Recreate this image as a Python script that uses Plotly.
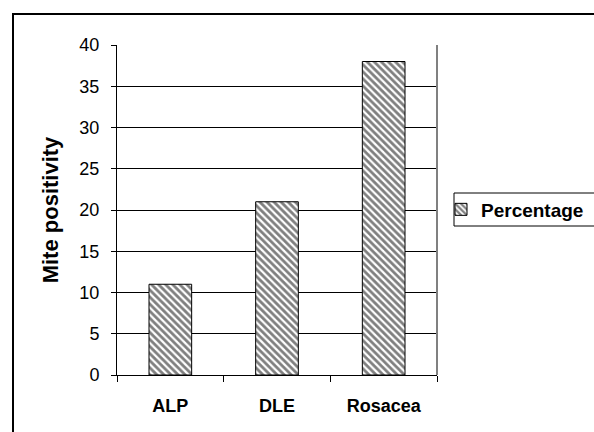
import plotly.graph_objects as go

categories = ["ALP", "DLE", "Rosacea"]
values = [11, 21, 38]
series_name = "Percentage"
y_ticks = [0, 5, 10, 15, 20, 25, 30, 35, 40]

L, R, T, B = 117, 157, 45, 57
W, H = 594, 432
pw, ph = W - L - R, H - T - B

def px_x(px):
    return (px - L) / pw

def px_y(py):
    return (H - B - py) / ph

FONT = "Liberation Sans, Arial"

fig = go.Figure()
fig.add_trace(go.Bar(
    x=categories, y=values, name=series_name, width=0.4,
    marker=dict(color="white", line=dict(color="black", width=1),
                pattern=dict(shape="\\", fgcolor="black", bgcolor="white", size=5, solidity=0.55)),
    showlegend=True,
))

fig.update_layout(
    width=W, height=H,
    margin=dict(l=L, r=R, t=T, b=B, pad=0, autoexpand=False),
    paper_bgcolor="white", plot_bgcolor="white",
    font=dict(family=FONT, size=18, color="black"),
    xaxis=dict(
        type="category", showline=True, linecolor="black", linewidth=1,
        ticks="outside", ticklen=6, tickcolor="black", tickson="boundaries",
        tickfont=dict(size=18, family=FONT, weight="bold"), ticklabelstandoff=14,
        showgrid=False, mirror=False, range=[-0.5, 2.5],
    ),
    yaxis=dict(
        range=[0, 40], tickvals=y_ticks, showline=True, linecolor="black", linewidth=1,
        ticks="outside", ticklen=5, tickcolor="black", ticklabelstandoff=8,
        showgrid=True, gridcolor="black", gridwidth=1, zeroline=False,
        tickfont=dict(size=18),
        title=dict(text="Mite positivity", font=dict(size=22, weight="bold"), standoff=14),
    ),
    legend=dict(
        x=px_x(441), y=px_y(209.5), xanchor="left", yanchor="middle",
        borderwidth=0, bgcolor="rgba(0,0,0,0)",
        font=dict(size=19, weight="bold"), itemwidth=30,
    ),
    bargap=0.6,
    shapes=[
        dict(type="rect", xref="paper", yref="paper",
             x0=px_x(13), y0=px_y(470), x1=px_x(640), y1=px_y(14),
             line=dict(color="black", width=2), fillcolor="rgba(0,0,0,0)", layer="below"),
        dict(type="line", xref="paper", yref="paper", x0=1, x1=1, y0=0, y1=1,
             line=dict(color="gray", width=2)),
        dict(type="rect", xref="paper", yref="paper",
             x0=px_x(454), y0=px_y(226), x1=px_x(640), y1=px_y(193),
             line=dict(color="black", width=1), fillcolor="rgba(0,0,0,0)", layer="above"),
    ],
)

fig.write_html("out.html", config={"displayModeBar": False},
               post_script="document.body.style.margin='0';document.body.style.overflow='hidden';")
